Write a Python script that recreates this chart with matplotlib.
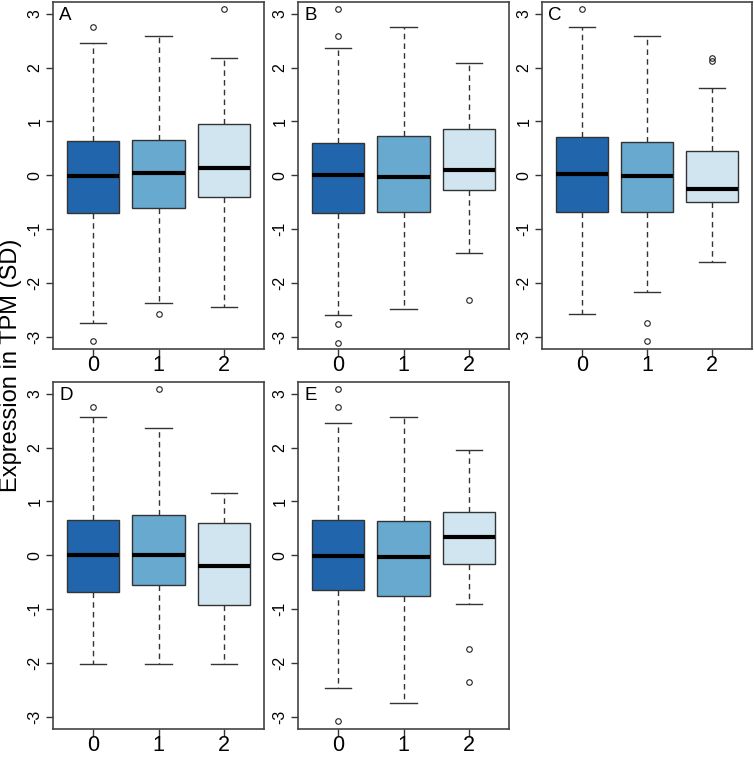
import matplotlib
matplotlib.use("Agg")
import matplotlib.pyplot as plt

plt.rcParams['font.family'] = ['Liberation Sans', 'DejaVu Sans']

groups = ['0', '1', '2']
colors = ['#2166AC', '#67A9CF', '#D1E5F0']
panels = ['A', 'B', 'C', 'D', 'E']

# per panel, per group: whislo, q1, med, q3, whishi
whislo = [[-2.75, -2.37, -2.45],
          [-2.60, -2.48, -1.45],
          [-2.58, -2.17, -1.62],
          [-2.03, -2.03, -2.03],
          [-2.46, -2.75, -0.91]]
q1 = [[-0.71, -0.61, -0.40],
      [-0.71, -0.69, -0.27],
      [-0.68, -0.69, -0.50],
      [-0.69, -0.56, -0.92],
      [-0.64, -0.76, -0.16]]
med = [[-0.02, 0.05, 0.14],
       [0.01, -0.03, 0.10],
       [0.02, -0.01, -0.25],
       [0.00, 0.00, -0.20],
       [-0.02, -0.03, 0.33]]
q3 = [[0.64, 0.66, 0.96],
      [0.60, 0.72, 0.86],
      [0.71, 0.61, 0.45],
      [0.65, 0.74, 0.60],
      [0.65, 0.64, 0.81]]
whishi = [[2.46, 2.58, 2.17],
          [2.36, 2.75, 2.08],
          [2.75, 2.58, 1.63],
          [2.57, 2.37, 1.15],
          [2.46, 2.57, 1.96]]
outliers = [[[2.75, -3.09], [-2.58], [3.09]],
            [[2.58, 3.09, -2.77, -3.11], [], [-2.32]],
            [[3.09], [-2.75, -3.09], [2.17, 2.12]],
            [[2.75], [3.09], []],
            [[2.75, 3.09, -3.09], [], [-1.75, -2.36]]]

W, H = 754, 757
fig = plt.figure(figsize=(W / 100, H / 100), dpi=100)

# axes rectangles in pixels: left, top, right, bottom
rects = [(53, 2, 264, 349), (298, 2, 509, 349), (542, 2, 752, 349),
         (53, 382, 264, 729), (298, 382, 509, 729)]

for p, name in enumerate(panels):
    l, t, r, b = rects[p]
    ax = fig.add_axes([l / W, 1 - b / H, (r - l) / W, (b - t) / H])
    stats = []
    for g in range(3):
        stats.append({'whislo': whislo[p][g], 'q1': q1[p][g], 'med': med[p][g],
                      'q3': q3[p][g], 'whishi': whishi[p][g],
                      'fliers': outliers[p][g], 'label': groups[g]})
    bp = ax.bxp(stats, positions=[1, 2, 3], widths=0.8, patch_artist=True,
                boxprops=dict(edgecolor='#333333', linewidth=1.0),
                medianprops=dict(color='black', linewidth=3.0, solid_capstyle='butt'),
                whiskerprops=dict(color='#333333', linewidth=1.0, linestyle=(0, (4, 3))),
                capprops=dict(color='#333333', linewidth=1.0),
                flierprops=dict(marker='o', markersize=4, markerfacecolor='none',
                                markeredgecolor='#222222', markeredgewidth=0.8))
    for patch, c in zip(bp['boxes'], colors):
        patch.set_facecolor(c)
    ax.set_xlim(0.38, 3.62)
    ax.set_ylim(-3.23, 3.22)
    ax.set_yticks([-3, -2, -1, 0, 1, 2, 3])
    ax.set_yticklabels(['-3', '-2', '-1', '0', '1', '2', '3'], rotation=90, va='center')
    ax.tick_params(axis='y', labelsize=11.5, length=5, width=1, pad=2.5, color='#333333')
    ax.tick_params(axis='x', labelsize=15.5, length=5, width=1, pad=-1, color='#333333')
    for s in ax.spines.values():
        s.set_color('#444444')
        s.set_linewidth(1.2)
    ax.text(0.03, 0.985, name, transform=ax.transAxes, ha='left', va='top', fontsize=13.5)

fig.text(0.0, 0.518, 'Expression in TPM (SD)', rotation=90, ha='left', va='center',
         fontsize=17)

plt.savefig("out.png", dpi=100)
